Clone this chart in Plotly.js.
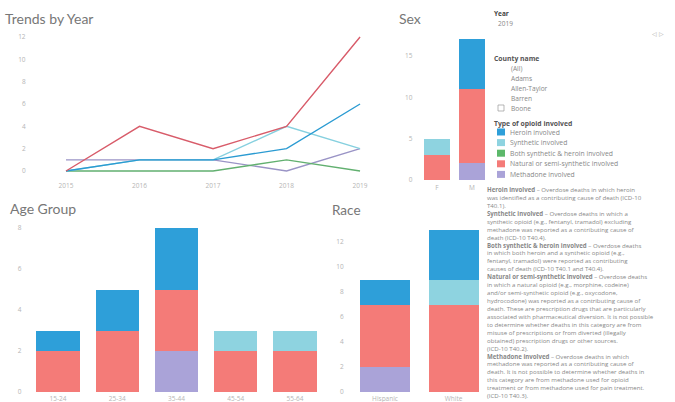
<!DOCTYPE html>
<html><head><meta charset="utf-8">
<script src="https://cdn.plot.ly/plotly-3.0.1.min.js"></script>
<style>html,body{margin:0;padding:0;background:#fff;}#chart{width:675px;height:402px;}</style>
</head><body><div id="chart"></div>
<script>
// ---- data ----
const years = [2015, 2016, 2017, 2018, 2019];
const typeNames = ['Heroin involved', 'Synthetic involved', 'Both synthetic & heroin involved', 'Natural or semi-synthetic involved', 'Methadone involved'];
const typeColors = ['#2e9fd9', '#8ed3e0', '#5cb86a', '#f47b78', '#aaa3d8'];
const lineColors = ['#2b9bd2', '#86d0df', '#62b070', '#d85c6a', '#9a94c6'];

const trendHeroin    = [0, 1, 1, 2, 6];
const trendSynthetic = [0, 1, 1, 4, 2];
const trendBoth      = [0, 0, 0, 1, 0];
const trendNatural   = [0, 4, 2, 4, 12];
const trendMethadone = [1, 1, 1, 0, 2];

const sexCats = ['F', 'M'];
const sexHeroin    = [0, 6];
const sexSynthetic = [2, 0];
const sexBoth      = [0, 0];
const sexNatural   = [3, 9];
const sexMethadone = [0, 2];

const ageCats = ['15-24', '25-34', '35-44', '45-54', '55-64'];
const ageHeroin    = [1, 2, 3, 0, 0];
const ageSynthetic = [0, 0, 0, 1, 1];
const ageBoth      = [0, 0, 0, 0, 0];
const ageNatural   = [2, 3, 3, 2, 2];
const ageMethadone = [0, 0, 2, 0, 0];

const raceCats = ['Hispanic', 'White'];
const raceHeroin    = [2, 4];
const raceSynthetic = [0, 2];
const raceBoth      = [0, 0];
const raceNatural   = [5, 7];
const raceMethadone = [2, 0];

const yearSelected = '2019';
const countyNames = ['(All)', 'Adams', 'Allen-Taylor', 'Barren', 'Boone'];

// ---- build ----
const W = 675, H = 402;
const fx = p => p / W, fy = p => 1 - p / H;
const FONT = '"Open Sans", Lato, sans-serif';

const traces = [];
const trendSeries = [trendHeroin, trendSynthetic, trendBoth, trendNatural, trendMethadone];
[4, 2, 1, 0, 3].forEach(i => {
  traces.push({type: 'scatter', mode: 'lines', x: years, y: trendSeries[i], name: typeNames[i],
    line: {color: lineColors[i], width: 1.4}, xaxis: 'x', yaxis: 'y', showlegend: false, cliponaxis: false});
});
function addBars(cats, series, xa, ya) {
  [4, 3, 2, 1, 0].forEach(i => {
    traces.push({type: 'bar', x: cats, y: series[i], name: typeNames[i], xaxis: xa, yaxis: ya,
      marker: {color: typeColors[i], line: {width: 0}}, showlegend: false});
  });
}
addBars(sexCats, [sexHeroin, sexSynthetic, sexBoth, sexNatural, sexMethadone], 'x2', 'y2');
addBars(ageCats, [ageHeroin, ageSynthetic, ageBoth, ageNatural, ageMethadone], 'x3', 'y3');
addBars(raceCats, [raceHeroin, raceSynthetic, raceBoth, raceNatural, raceMethadone], 'x4', 'y4');

const tickFont = {family: FONT, size: 6.5, color: '#b5b5b5'};
const baseAx = {showgrid: false, zeroline: false, showline: false, ticks: '', tickfont: tickFont, fixedrange: true};

const annotations = [];
const shapes = [];
function txt(x, y, text, size, color, fam, yanchor) {
  annotations.push({xref: 'paper', yref: 'paper', x: fx(x), y: fy(y), text: text,
    showarrow: false, xanchor: 'left', yanchor: yanchor || 'middle', align: 'left',
    font: {family: fam || FONT, size: size, color: color}});
}
const TFONT = 'Lato, "Open Sans", sans-serif';
txt(3, 18, 'Trends by Year', 14, '#777', TFONT);
txt(397, 18, 'Sex', 14, '#777', TFONT);
txt(8, 208, 'Age Group', 14, '#777', TFONT);
txt(330, 210, 'Race', 13.5, '#777', TFONT);

// filters
txt(492, 13, '<b>Year</b>', 6.5, '#444');
txt(496, 24, yearSelected, 6.5, '#888');
txt(650, 34, '◁ ▷', 6, '#aaa');
txt(492, 58, '<b>County name</b>', 6.8, '#555');
countyNames.forEach((c, k) => txt(509, 68 + k * 10, c, 6.6, '#888'));
shapes.push({type: 'rect', xref: 'paper', yref: 'paper', x0: fx(498), x1: fx(504), y0: fy(111), y1: fy(105), line: {color: '#999', width: 0.7}, fillcolor: '#fff'});
txt(492, 123, '<b>Type of opioid involved</b>', 6.8, '#555');
typeNames.forEach((n, k) => {
  const yy = 132 + k * 10.6;
  shapes.push({type: 'rect', xref: 'paper', yref: 'paper', x0: fx(497), x1: fx(505), y0: fy(yy + 3.5), y1: fy(yy - 3.5), line: {width: 0}, fillcolor: typeColors[k]});
  txt(508, yy, n, 6.8, '#888');
});

const defs = [
  '<b>Heroin involved</b> – Overdose deaths in which heroin',
  'was identified as a contributing cause of death (ICD-10',
  'T40.1).',
  '<b>Synthetic involved</b> – Overdose deaths in which a',
  'synthetic opioid (e.g., fentanyl, tramadol) excluding',
  'methadone was reported as a contributing cause of',
  'death (ICD-10 T40.4).',
  '<b>Both synthetic & heroin involved</b> – Overdose deaths',
  'in which both heroin and a synthetic opioid (e.g.,',
  'fentanyl, tramadol) were reported as contributing',
  'causes of death (ICD-10 T40.1 and T40.4).',
  '<b>Natural or semi-synthetic involved</b> – Overdose deaths',
  'in which a natural opioid (e.g., morphine, codeine)',
  'and/or semi-synthetic opioid (e.g., oxycodone,',
  'hydrocodone) was reported as a contributing cause of',
  'death. These are prescription drugs that are particularly',
  'associated with pharmaceutical diversion. It is not possible',
  'to determine whether deaths in this category are from',
  'misuse of prescriptions or from diverted (illegally',
  'obtained) prescription drugs or other sources.',
  '(ICD-10 T40.2).',
  '<b>Methadone involved</b> – Overdose deaths in which',
  'methadone was reported as a contributing cause of',
  'death. It is not possible to determine whether deaths in',
  'this category are from methadone used for opioid',
  'treatment or from methadone used for pain treatment.',
  '(ICD-10 T40.3).'
];
txt(485, 183, defs.join('<br>'), 6.1, '#888', FONT, 'top');

const layout = {
  width: W, height: H, margin: {l: 0, r: 0, t: 0, b: 0},
  paper_bgcolor: '#fff', plot_bgcolor: 'rgba(0,0,0,0)',
  font: {family: FONT, color: '#888'},
  barmode: 'stack', bargap: 0.27, showlegend: false,
  xaxis: Object.assign({}, baseAx, {domain: [fx(36.6), fx(367.4)], range: [2014.6, 2019.1], tickvals: years, ticktext: years.map(String), ticklabelstandoff: 4}),
  yaxis: Object.assign({}, baseAx, {domain: [fy(176.6), fy(31.4)], range: [-0.5, 12.5], tickvals: [0, 2, 4, 6, 8, 10, 12], ticklabelstandoff: 10}),
  xaxis2: Object.assign({}, baseAx, {domain: [fx(419.5), fx(489.5)], anchor: 'y2', type: 'category', range: [-0.5, 1.5], ticklabelstandoff: 2}),
  yaxis2: Object.assign({}, baseAx, {domain: [fy(180), fy(27)], anchor: 'x2', range: [0, 18.5], tickvals: [0, 5, 10, 15], ticklabelstandoff: 6}),
  xaxis3: Object.assign({}, baseAx, {domain: [fx(28.4), fx(324.6)], anchor: 'y3', type: 'category', range: [-0.5, 4.5], ticklabelstandoff: 1}),
  yaxis3: Object.assign({}, baseAx, {domain: [fy(392), fy(222)], anchor: 'x3', range: [0, 8.3], tickvals: [0, 2, 4, 6, 8], ticklabelstandoff: 6}),
  xaxis4: Object.assign({}, baseAx, {domain: [fx(350.8), fx(487.8)], anchor: 'y4', type: 'category', range: [-0.5, 1.5], ticklabelstandoff: 1}),
  yaxis4: Object.assign({}, baseAx, {domain: [fy(392), fy(222)], anchor: 'x4', range: [0, 13.6], tickvals: [0, 2, 4, 6, 8, 10, 12], ticklabelstandoff: 6}),
  annotations: annotations, shapes: shapes
};
Plotly.newPlot('chart', traces, layout, {displayModeBar: false, staticPlot: true});
</script>
</body></html>
